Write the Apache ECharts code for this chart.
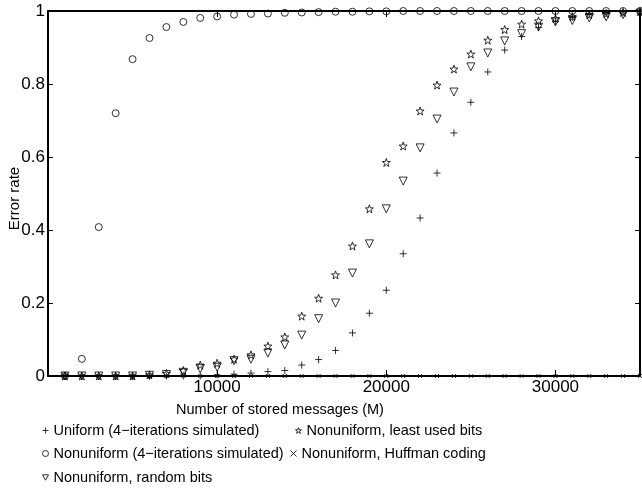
<!DOCTYPE html>
<html>
<head>
<meta charset="utf-8">
<script src="https://cdn.jsdelivr.net/npm/echarts@6/dist/echarts.min.js"></script>
<style>
  html, body { margin: 0; padding: 0; background: #fff; }
  #chart { width: 642px; height: 491px; }
</style>
</head>
<body>
<div id="chart"></div>
<script>
// x positions: number of stored messages
var messages = [1000, 2000, 3000, 4000, 5000, 6000, 7000, 8000, 9000, 10000,
  11000, 12000, 13000, 14000, 15000, 16000, 17000, 18000, 19000, 20000,
  21000, 22000, 23000, 24000, 25000, 26000, 27000, 28000, 29000, 30000,
  31000, 32000, 33000, 34000, 35000];

var uniformSim = [0, 0, 0, 0, 0, 0, 0, 0, 0, 0.003,
  0.005, 0.008, 0.012, 0.015, 0.03, 0.045, 0.07, 0.118, 0.172, 0.235,
  0.335, 0.433, 0.556, 0.666, 0.75, 0.833, 0.893, 0.93, 0.955, 0.972,
  0.982, 0.99, 0.994, 0.997, 0.999];

var nonuniformSim = [0, 0.047, 0.408, 0.72, 0.868, 0.926, 0.956, 0.97, 0.981, 0.985,
  0.99, 0.992, 0.993, 0.995, 0.996, 0.997, 0.998, 0.998, 0.999, 0.999,
  1, 1, 1, 1, 1, 1, 1, 1, 1, 1,
  1, 1, 1, 1, 1];

var randomBits = [0, 0, 0, 0, 0, 0.002, 0.004, 0.01, 0.02, 0.024,
  0.042, 0.046, 0.063, 0.085, 0.112, 0.157, 0.2, 0.282, 0.362, 0.458,
  0.534, 0.625, 0.704, 0.778, 0.847, 0.885, 0.918, 0.938, 0.956, 0.97,
  0.974, 0.981, 0.984, 0.99, 0.994];

var leastUsed = [0, 0, 0, 0, 0, 0.003, 0.007, 0.015, 0.03, 0.035,
  0.046, 0.058, 0.082, 0.107, 0.164, 0.213, 0.277, 0.356, 0.458, 0.585,
  0.63, 0.726, 0.797, 0.841, 0.882, 0.92, 0.949, 0.964, 0.973, 0.979,
  0.985, 0.99, 0.993, 0.996, 0.998];

var huffman = [0, 0, 0, 0, 0, 0, 0, 0, 0, 0,
  0, 0, 0, 0, 0, 0, 0, 0, 0, 0,
  0, 0, 0, 0, 0, 0, 0, 0, 0, 0,
  0, 0, 0, 0, 0];

var xTickLabels = [10000, 20000, 30000];

var names = ['Uniform (4\u2212iterations simulated)', 'Nonuniform (4\u2212iterations simulated)',
  'Nonuniform, random bits', 'Nonuniform, least used bits', 'Nonuniform, Huffman coding'];

var plusPath = 'path://M0,5L10,5M5,0L5,10';
var crossPath = 'path://M0,0L10,10M0,10L10,0';
var triDownPath = 'path://M0,0L10,0L5,9Z';
var starPath = 'path://M10,0L12.35,6.76L19.51,6.91L13.8,11.24L15.88,18.09L10,14L4.12,18.09L6.2,11.24L0.49,6.91L7.65,6.76Z';
var symbols = [plusPath, 'circle', triDownPath, starPath, crossPath];

var tickFont = "'Liberation Sans', Arial, sans-serif";
var hollow = { color: 'rgba(0,0,0,0)', borderColor: '#000', borderWidth: 1 };

function pairs(ys) {
  return messages.map(function (x, i) { return [x, ys[i]]; });
}

function markSeries(idx, ys, size) {
  return {
    name: names[idx],
    type: 'scatter',
    data: pairs(ys),
    symbol: symbols[idx],
    symbolSize: size,
    itemStyle: hollow,
    emphasis: { disabled: true },
    silent: true
  };
}

var chart = echarts.init(document.getElementById('chart'), null, { renderer: 'canvas' });

var legendText = { fontFamily: tickFont, fontSize: 14.5, color: '#000' };
function legendAt(idx, left, top) {
  return {
    data: [{ name: names[idx], icon: symbols[idx], itemStyle: hollow }],
    left: left, top: top, padding: 0,
    itemWidth: 6, itemHeight: 6, itemGap: 0,
    selectedMode: false, textStyle: legendText
  };
}

chart.setOption({
  animation: false,
  backgroundColor: '#fff',
  grid: { left: 48, right: 2, top: 11, bottom: 115, containLabel: false, outerBoundsMode: 'none' },
  legend: [
    legendAt(0, 42, 423),
    legendAt(1, 42, 446),
    legendAt(2, 42, 470),
    legendAt(3, 295, 423),
    legendAt(4, 290, 446)
  ],
  xAxis: [{
    type: 'value', min: 0, max: 35000, interval: 10000,
    name: 'Number of stored messages (M)', nameLocation: 'middle', nameGap: 26,
    nameMoveOverlap: false,
    nameTextStyle: { fontFamily: tickFont, fontSize: 14.5, color: '#000', padding: [0, 128, 0, 0] },
    axisLine: { show: true, onZero: false, lineStyle: { color: '#000', width: 2 } },
    axisTick: { show: true, inside: true, length: 6, lineStyle: { color: '#000', width: 1 } },
    axisLabel: { fontFamily: tickFont, fontSize: 17, color: '#000', margin: 3,
      formatter: function (v) { return xTickLabels.indexOf(v) >= 0 ? String(v) : ''; } },
    splitLine: { show: false }
  }, {
    type: 'value', min: 0, max: 35000, interval: 10000, position: 'top',
    axisLine: { show: true, onZero: false, lineStyle: { color: '#000', width: 2 } },
    axisTick: { show: true, inside: true, length: 6, lineStyle: { color: '#000', width: 1 } },
    axisLabel: { show: false }, splitLine: { show: false }
  }],
  yAxis: [{
    type: 'value', min: 0, max: 1, interval: 0.2,
    name: 'Error rate', nameLocation: 'middle', nameGap: 26,
    nameMoveOverlap: false,
    nameTextStyle: { fontFamily: tickFont, fontSize: 15, color: '#000', padding: [0, 10, 0, 0] },
    axisLine: { show: true, onZero: false, lineStyle: { color: '#000', width: 2 } },
    axisTick: { show: true, inside: true, length: 5, lineStyle: { color: '#000', width: 1 } },
    axisLabel: { fontFamily: tickFont, fontSize: 17, color: '#000', margin: 3 },
    splitLine: { show: false }
  }, {
    type: 'value', min: 0, max: 1, interval: 0.2, position: 'right',
    axisLine: { show: true, onZero: false, lineStyle: { color: '#000', width: 2 } },
    axisTick: { show: true, inside: true, length: 5, lineStyle: { color: '#000', width: 1 } },
    axisLabel: { show: false }, splitLine: { show: false }
  }],
  series: [
    markSeries(0, uniformSim, 7),
    markSeries(1, nonuniformSim, 7),
    markSeries(2, randomBits, 8),
    markSeries(3, leastUsed, 8),
    markSeries(4, huffman, 4)
  ]
});
</script>
</body>
</html>
